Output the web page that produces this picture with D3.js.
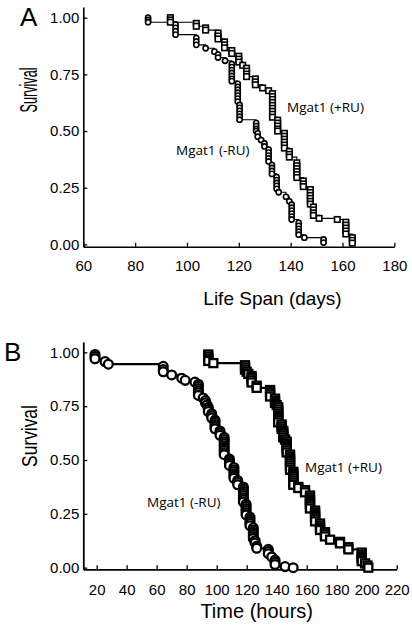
<!DOCTYPE html>
<html><head><meta charset="utf-8">
<script src="https://cdn.jsdelivr.net/npm/d3@7"></script>
<style>
html,body{margin:0;padding:0;background:#fff;}
svg{display:block;}
</style></head>
<body>
<svg id="chart" width="412" height="632"></svg>
<script>
// ---------- DATA ----------
// Panel A: life span (days) vs survival
const aTicksX = [60, 80, 100, 120, 140, 160, 180];
const ticksY = [0, 0.25, 0.5, 0.75, 1.0];
const aMinusRU = [
  [85,1.0],[85,0.99],[85,0.98],
  [95.6,0.97],[95.6,0.955],[95.6,0.94],[95.6,0.925],
  [103.6,0.91],[103.6,0.895],[103.6,0.88],
  [107.2,0.865],[110.6,0.85],[112,0.837],[112,0.824],[114.7,0.81],
  [117.3,0.795],[117.3,0.782],[117.3,0.769],[117.3,0.756],[117.3,0.743],[117.3,0.73],[117.3,0.72],
  [119.6,0.708],[119.6,0.695],[119.6,0.682],[119.6,0.669],[119.6,0.656],[119.6,0.643],[119.6,0.63],
  [120.3,0.615],[120.3,0.602],[120.3,0.589],[120.3,0.576],[120.3,0.563],[120.3,0.55],
  [126.7,0.535],[126.7,0.522],[126.7,0.509],[126.7,0.50],
  [127.3,0.49],[127.3,0.475],[128.6,0.46],[129.9,0.445],[129.9,0.432],
  [131.5,0.418],[131.5,0.405],[131.5,0.392],[131.5,0.379],[131.5,0.366],
  [132.8,0.35],[132.8,0.337],[132.8,0.324],[132.8,0.311],
  [134.6,0.297],[134.6,0.284],[134.6,0.271],[134.6,0.258],[134.6,0.245],
  [135.4,0.23],[138.2,0.21],[139.5,0.19],
  [140.4,0.175],[140.4,0.162],[140.4,0.149],[140.4,0.136],[140.4,0.123],[140.4,0.11],
  [143.1,0.095],[143.1,0.082],[143.1,0.069],[143.1,0.056],[143.1,0.043],
  [145.3,0.03],[152.7,0.022],[152.7,0.008]
];
const aPlusRU = [
  [93.6,1.0],[93.6,0.99],[93.6,0.98],
  [103.6,0.975],[103.6,0.962],
  [107.2,0.955],[107.2,0.945],
  [112,0.932],[112,0.919],[112,0.906],
  [114.5,0.893],[114.5,0.88],[114.5,0.867],
  [117.3,0.855],[117.3,0.842],
  [120,0.83],[120,0.817],[120,0.804],
  [121.5,0.79],
  [123,0.777],[123,0.764],[123,0.751],[123,0.74],
  [126.4,0.73],[126.4,0.717],[126.4,0.704],
  [129.2,0.69],[131.5,0.678],
  [133,0.665],[133,0.652],[133,0.639],[133,0.626],[133,0.613],[133,0.60],[133,0.587],[133,0.574],[133,0.561],
  [135,0.548],[135,0.535],[135,0.522],[135,0.509],[135,0.50],
  [137.6,0.49],[137.6,0.477],[137.6,0.464],[137.6,0.451],[137.6,0.438],[137.6,0.425],
  [139.5,0.41],[139.5,0.397],[139.5,0.385],
  [142.4,0.36],[142.4,0.347],[142.4,0.334],[142.4,0.321],[142.4,0.308],[142.4,0.295],
  [144.9,0.28],[144.9,0.267],[144.9,0.255],
  [147.6,0.242],[147.6,0.229],[147.6,0.216],[147.6,0.203],[147.6,0.19],[147.6,0.178],
  [148.8,0.165],[148.8,0.152],[148.8,0.139],[148.8,0.128],
  [151,0.115],[158,0.11],
  [161.3,0.098],[161.3,0.085],[161.3,0.072],[161.3,0.059],[161.3,0.046],
  [163.8,0.03],[163.8,0.018],[163.8,0.006]
];
// Panel B: time (hours) vs survival
const bTicksX = [20, 40, 60, 80, 100, 120, 140, 160, 180, 200, 220];
const bMinusRU = [
  [18.9,0.99],[18.9,0.98],[18.9,0.97],
  [25.6,0.957],[27.8,0.945],
  [64.4,0.935],[64.4,0.92],[64.4,0.91],
  [70,0.895],[76.7,0.88],[79,0.87],[85.5,0.862],
  [87.8,0.852],[87.8,0.842],[87.8,0.832],[87.8,0.822],[87.8,0.812],[87.8,0.80],
  [91,0.788],[92.5,0.776],[92.5,0.766],[93.5,0.756],[94.4,0.745],[94.4,0.735],[94.4,0.725],
  [96.7,0.715],[96.7,0.705],[96.7,0.695],
  [98.9,0.685],[98.9,0.675],[98.9,0.665],[98.9,0.655],[98.9,0.645],
  [102.2,0.635],[102.2,0.625],[102.2,0.615],
  [105,0.605],[105,0.595],[105,0.585],[105,0.575],[105,0.565],[105,0.555],[105,0.545],[105,0.535],[105,0.525],
  [108.5,0.505],[108.5,0.495],[108.5,0.485],[108.5,0.475],
  [111.5,0.465],[111.5,0.455],[111.5,0.445],[111.5,0.435],[111.5,0.425],[111.5,0.415],
  [114,0.405],[114,0.395],[114,0.385],
  [117.8,0.375],[117.8,0.365],[117.8,0.355],[117.8,0.345],[117.8,0.335],[117.8,0.325],[117.8,0.315],[117.8,0.305],
  [119.6,0.295],[119.6,0.285],[119.6,0.275],[119.6,0.265],[119.6,0.255],[119.6,0.245],
  [122.2,0.235],[122.2,0.225],[122.2,0.215],[122.2,0.205],[122.2,0.195],
  [124.4,0.185],[124.4,0.175],[124.4,0.165],[124.4,0.155],[124.4,0.145],[124.4,0.135],
  [125.6,0.125],[125.6,0.115],[126.7,0.10],[126.7,0.09],
  [134.4,0.085],[134.4,0.075],[134.4,0.065],
  [136.7,0.05],[138.9,0.035],[138.9,0.025],[138.9,0.015],
  [145.6,0.005],[151,0.0]
];
const bPlusRU = [
  [94.4,0.99],[94.4,0.98],[94.4,0.97],[94.4,0.96],
  [97.8,0.95],
  [118.9,0.94],[118.9,0.93],[118.9,0.92],
  [120,0.91],[121.1,0.90],
  [123.3,0.89],[123.3,0.88],[123.3,0.87],[123.3,0.86],
  [126.7,0.845],[126.7,0.835],
  [135.6,0.825],[135.6,0.815],[135.6,0.805],[135.6,0.795],
  [138.9,0.785],[138.9,0.775],[138.9,0.765],
  [140,0.755],[141,0.745],[141,0.735],[141,0.725],[141,0.715],[141,0.705],[141,0.695],[141,0.685],[141,0.675],
  [143.3,0.665],[143.3,0.655],[143.3,0.645],[144.4,0.635],[144.4,0.625],[144.4,0.615],[144.4,0.605],
  [145.6,0.595],[146.7,0.585],[146.7,0.575],[146.7,0.565],[146.7,0.555],[146.7,0.545],[146.7,0.535],
  [148.9,0.525],[148.9,0.515],[148.9,0.505],[148.9,0.495],[148.9,0.485],[148.9,0.475],[148.9,0.465],[148.9,0.455],
  [151.1,0.445],[151.1,0.435],[151.1,0.425],[151.1,0.415],[151.1,0.405],[151.1,0.395],[151.1,0.385],
  [154.4,0.375],[154.4,0.37],
  [158.9,0.36],[158.9,0.35],
  [162.2,0.335],[162.2,0.325],[162.2,0.315],[162.2,0.305],[162.2,0.295],[162.2,0.285],[162.2,0.275],
  [165.6,0.265],[165.6,0.255],[165.6,0.245],[165.6,0.235],[165.6,0.225],[165.6,0.215],
  [168.9,0.205],[168.9,0.195],[168.9,0.185],[168.9,0.175],
  [172.2,0.165],[172.2,0.155],[172.2,0.145],
  [175.6,0.13],[182.2,0.12],[182.2,0.113],
  [187.8,0.095],[187.8,0.085],
  [196.7,0.07],[196.7,0.06],[196.7,0.05],[196.7,0.04],[196.7,0.03],
  [198.9,0.02],[200.5,0.01],[201.1,0.0]
];
const seriesLabels = ["Mgat1 (-RU)", "Mgat1 (+RU)"];

// ---------- DRAW ----------
const svg = d3.select("#chart");
svg.append("rect").attr("width",412).attr("height",632).attr("fill","#fff");
const SANS = "Liberation Sans, Arial, Helvetica, sans-serif";

function panel(cfg){
  const g = svg.append("g");
  const x = d3.scaleLinear().domain(cfg.xDomain).range(cfg.xRange);
  const y = d3.scaleLinear().domain(cfg.yDomain).range(cfg.yRange);
  const fmt = d3.format(".2f");

  const xa = g.append("g").attr("transform",`translate(0,${cfg.yRange[0]})`)
    .call(d3.axisBottom(x).tickValues(cfg.ticksX).tickSizeInner(-4).tickSizeOuter(0).tickPadding(cfg.xPad));
  const ya = g.append("g").attr("transform",`translate(${cfg.xRange[0]},0)`)
    .call(d3.axisLeft(y).tickValues(ticksY).tickFormat(fmt).tickSizeInner(-4).tickSizeOuter(0).tickPadding(4));
  [xa,ya].forEach(a=>{
    a.attr("font-family",SANS).attr("font-size",15);
    a.select(".domain").attr("stroke","#000").attr("stroke-width",cfg.axisW);
    a.selectAll(".tick line").attr("stroke","#000").attr("stroke-width",1.3);
    a.selectAll(".tick text").attr("fill","#000").attr("font-size",15).attr("font-family",SANS);
  });

  const line = d3.line().curve(d3.curveStepAfter).x(d=>x(d[0])).y(d=>y(d[1]));
  cfg.series.forEach(s=>{
    g.append("path").datum(s.data).attr("d",line)
      .attr("fill","none").attr("stroke","#000").attr("stroke-width",cfg.lineW);
  });
  cfg.series.forEach(s=>{
    const m = g.append("g");
    if(s.shape==="circle"){
      m.selectAll("circle").data(s.data).join("circle")
        .attr("cx",d=>x(d[0])).attr("cy",d=>y(d[1])).attr("r",cfg.r)
        .attr("fill","#fff").attr("stroke","#000").attr("stroke-width",cfg.mW);
    } else {
      m.selectAll("rect").data(s.data).join("rect")
        .attr("x",d=>x(d[0])-cfg.sq/2).attr("y",d=>y(d[1])-cfg.sq/2)
        .attr("width",cfg.sq).attr("height",cfg.sq)
        .attr("fill","#fff").attr("stroke","#000").attr("stroke-width",cfg.mW);
    }
  });

  g.append("text").attr("x",cfg.letterX).attr("y",cfg.letterY).text(cfg.letter)
    .attr("font-family",SANS).attr("font-size",26);
  g.append("text").attr("transform",`translate(${cfg.yTitleX},${cfg.yTitleY}) rotate(-90) scale(${cfg.yTitleScale},1)`)
    .attr("text-anchor","middle").text("Survival")
    .attr("font-family",SANS).attr("font-size",cfg.yTitleSize);
  g.append("text").attr("x",cfg.xTitleX).attr("y",cfg.xTitleY).attr("text-anchor","middle")
    .text(cfg.xTitle).attr("font-family",SANS).attr("font-size",cfg.xTitleSize);
  cfg.notes.forEach(n=>{
    g.append("text").attr("x",n.x).attr("y",n.y).text(n.t)
      .attr("font-family","Open Sans, Noto Sans, sans-serif").attr("font-size",13.5);
  });
}

panel({
  xDomain:[60,180], xRange:[83.3,394.3],
  yDomain:[-0.01,1.047], yRange:[246.7,7],
  ticksX:aTicksX, xPad:14, axisW:1.6, lineW:1.1, r:2.6, sq:5.5, mW:1.6,
  series:[{data:aMinusRU,shape:"circle"},{data:aPlusRU,shape:"rect"}],
  letter:"A", letterX:20, letterY:26,
  yTitleX:37, yTitleY:90, yTitleSize:23, yTitleScale:0.55,
  xTitle:"Life Span (days)", xTitleX:272.5, xTitleY:305, xTitleSize:19,
  notes:[{t:seriesLabels[1],x:287,y:111.7},{t:seriesLabels[0],x:176,y:155.3}]
});
panel({
  xDomain:[11.1,220], xRange:[83.3,396.7],
  yDomain:[-0.0075,1.048], yRange:[569.3,342],
  ticksX:bTicksX, xPad:15.5, axisW:1.8, lineW:2.2, r:4.4, sq:8, mW:2.3,
  series:[{data:bMinusRU,shape:"circle"},{data:bPlusRU,shape:"rect"}],
  letter:"B", letterX:4, letterY:361,
  yTitleX:37, yTitleY:436, yTitleSize:22, yTitleScale:0.79,
  xTitle:"Time (hours)", xTitleX:256.7, xTitleY:618, xTitleSize:20,
  notes:[{t:seriesLabels[1],x:305,y:471.7},{t:seriesLabels[0],x:147,y:506.7}]
});
</script>
</body></html>
